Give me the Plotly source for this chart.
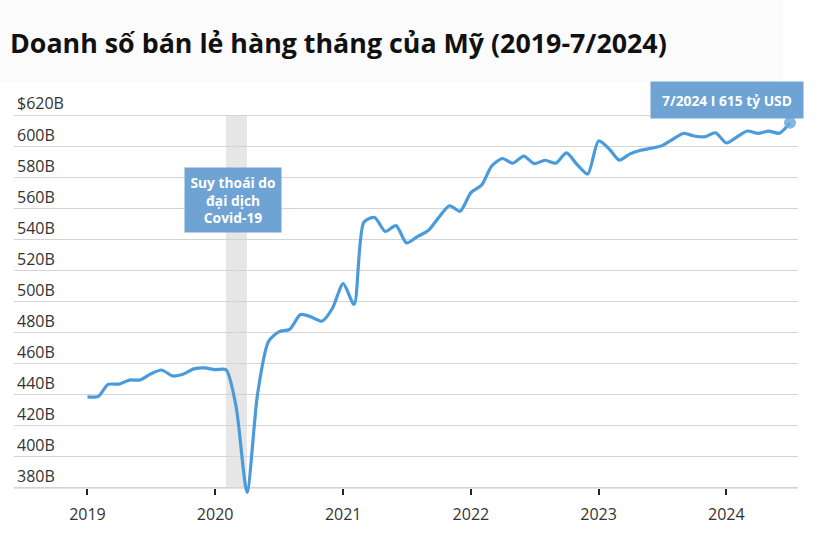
import plotly.graph_objects as go
import pandas as pd

# Monthly US retail sales, billions USD (Jan 2019 - Jul 2024)
months = pd.date_range("2019-01-01", "2024-07-01", freq="MS")
sales = [
    438.5, 438.8, 446.5, 446.7, 449.3, 449.4, 453.3, 455.8, 452.0, 453.0, 456.5, 457.2,  # 2019
    456.0, 456.0, 432.0, 377.0, 440.0, 474.0, 480.4, 482.0, 491.5, 490.0, 487.2, 495.4,  # 2020
    511.4, 498.0, 551.0, 554.0, 545.0, 548.8, 537.7, 541.7, 545.6, 554.0, 561.6, 558.0,  # 2021
    570.0, 575.0, 587.0, 592.0, 589.0, 593.6, 588.7, 590.9, 589.0, 595.6, 588.0, 582.0,  # 2022
    603.3, 598.0, 591.0, 595.0, 597.3, 598.6, 600.3, 604.4, 608.2, 606.5, 606.0, 608.6,  # 2023
    602.0, 606.0, 609.7, 608.2, 609.7, 608.3, 615.0,                                      # 2024
]
y_ticks = [380, 400, 420, 440, 460, 480, 500, 520, 540, 560, 580, 600, 620]
y_labels = ["380B", "400B", "420B", "440B", "460B", "480B", "500B", "520B",
            "540B", "560B", "580B", "600B", "$620B"]
x_ticks = ["2019-01-01", "2020-01-01", "2021-01-01", "2022-01-01", "2023-01-01", "2024-01-01"]
x_labels = ["2019", "2020", "2021", "2022", "2023", "2024"]
recession = ["2020-02-01", "2020-04-01"]
title = "Doanh số bán lẻ hàng tháng của Mỹ (2019-7/2024)"
note_covid = "Suy thoái do<br>đại dịch<br>Covid-19"
note_last = "7/2024 I 615 tỷ USD"

FONT = "Open Sans"
LINE = "#4a9bdc"
BOX = "#6ea3d3"

W, H = 817, 540
PPU = 1.5556            # pixels per billion
Y_AXIS_PX = 488         # pixel row of the 380B baseline
YR = [374, 640]
ML, MR = 14, 19
MB = round(H - Y_AXIS_PX - (y_ticks[0] - YR[0]) * PPU)
MT = round(Y_AXIS_PX - (YR[1] - y_ticks[0]) * PPU)
PW, PH = W - ML - MR, H - MT - MB


def px_to_paper(px, py):
    return (px - ML) / PW, (H - MB - py) / PH


fig = go.Figure()
fig.add_trace(go.Scatter(
    x=months, y=sales, mode="lines",
    line=dict(color=LINE, width=3.2, shape="spline", smoothing=0.7),
    hoverinfo="skip", showlegend=False,
))
fig.add_trace(go.Scatter(
    x=[months[-1]], y=[sales[-1]], mode="markers",
    marker=dict(size=12, color="rgba(110,170,225,0.85)"),
    hoverinfo="skip", showlegend=False,
))

# header band
hx0, hy1 = px_to_paper(0, 0)
hx1, hy0 = px_to_paper(783, 82)
fig.add_shape(type="rect", xref="paper", yref="paper",
              x0=hx0, x1=hx1, y0=hy0, y1=hy1,
              fillcolor="#fbfbfb", line=dict(width=0), layer="below")
# recession band
fig.add_shape(type="rect", xref="x", yref="y",
              x0=recession[0], x1=recession[1], y0=y_ticks[0], y1=y_ticks[-1],
              fillcolor="#e6e6e6", line=dict(width=0), layer="below")
# baseline (x axis line at 380B)
fig.add_shape(type="line", xref="paper", yref="y", x0=0, x1=1,
              y0=y_ticks[0], y1=y_ticks[0], line=dict(color="#cccccc", width=1.5),
              layer="below")

cx, cy = px_to_paper(233, 199.7)
fig.add_annotation(xref="paper", yref="paper", x=cx, y=cy, xanchor="center", yanchor="middle",
                   text=note_covid, showarrow=False, width=96, height=64,
                   bgcolor=BOX, font=dict(family=FONT, size=13.8, color="white", weight="bold"),
                   align="center", valign="middle", borderpad=0)
lx, ly = px_to_paper(727, 99.7)
fig.add_annotation(xref="paper", yref="paper", x=lx, y=ly, xanchor="center", yanchor="middle",
                   text=note_last, showarrow=False, width=152, height=36,
                   bgcolor=BOX, font=dict(family=FONT, size=13.8, color="white", weight="bold"),
                   align="center", valign="middle", borderpad=0)

fig.update_layout(
    width=W, height=H,
    margin=dict(l=ML, r=MR, t=MT, b=MB),
    paper_bgcolor="white", plot_bgcolor="white",
    title=dict(text=title, x=10 / W, xanchor="left", xref="container",
               y=1 - 44 / H, yanchor="middle",
               font=dict(family=FONT, size=26.8, color="#111111", weight="bold")),
    font=dict(family=FONT, color="#333333"),
)
fig.update_xaxes(
    type="date", range=["2018-06-05", "2024-07-24"],
    tickvals=x_ticks, ticktext=x_labels,
    anchor="free", position=(H - MB - Y_AXIS_PX) / PH,
    showgrid=False, showline=False,
    ticks="outside", ticklen=6, tickwidth=1.5, tickcolor="#222222",
    ticklabelstandoff=6,
    tickfont=dict(family=FONT, size=16, color="#333333"),
)
fig.update_yaxes(
    range=YR, tickvals=y_ticks, ticktext=y_labels,
    showgrid=True, gridcolor="#d4d4d4", gridwidth=1,
    ticklabelposition="inside top", ticks="",
    showline=False, zeroline=False,
    tickfont=dict(family=FONT, size=16, color="#333333"),
)

fig.write_html("out.html")
